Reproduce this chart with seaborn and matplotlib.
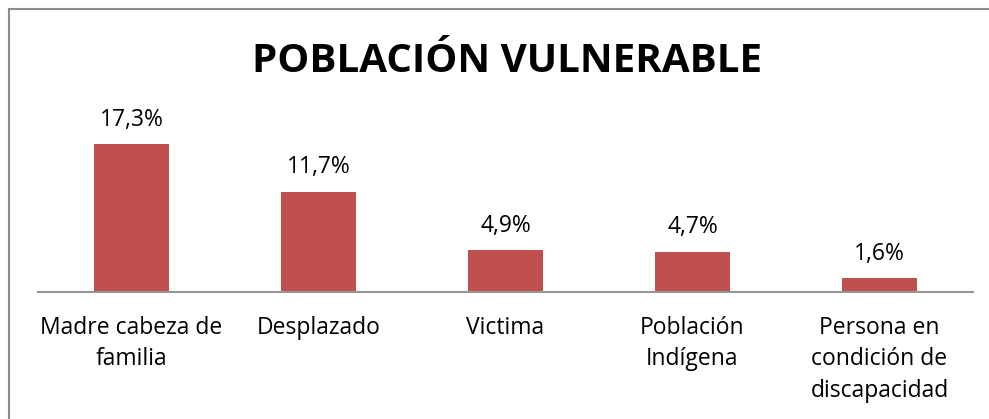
import matplotlib
matplotlib.use("Agg")
import matplotlib.pyplot as plt
import seaborn as sns
import pandas as pd
from matplotlib.patches import Rectangle

categories = ["Madre cabeza de\nfamilia", "Desplazado", "Victima", "Población\nIndígena",
              "Persona en\ncondición de\ndiscapacidad"]
values = [17.3, 11.7, 4.9, 4.7, 1.6]
value_labels = ["17,3%", "11,7%", "4,9%", "4,7%", "1,6%"]
title = "POBLACIÓN VULNERABLE"

sns.set_style("white")
plt.rcParams['font.family'] = ['Open Sans', 'DejaVu Sans']

df = pd.DataFrame({"cat": categories, "val": values})

fig = plt.figure(figsize=(9.89, 4.19), dpi=100)
W, H = 989, 419
ax = fig.add_axes([38 / W, 1 - 292 / H, (973 - 38) / W, (292 - 121) / H])
sns.barplot(data=df, x="cat", y="val", ax=ax, color="#C0504D", width=0.40,
            saturation=1, edgecolor="none")
ax.set_xlim(-0.5, 4.5)
ax.set_ylim(0, 20)
ax.set_xlabel("")
ax.set_ylabel("")
ax.set_yticks([])
for s in ["top", "left", "right"]:
    ax.spines[s].set_visible(False)
ax.spines["bottom"].set_color("#969696")
ax.spines["bottom"].set_linewidth(1.5)
ax.tick_params(axis="x", length=0, pad=17, labelsize=16.5, colors="black")
for lab in ax.get_xticklabels():
    lab.set_linespacing(1.42)

for i, (v, t) in enumerate(zip(values, value_labels)):
    ax.annotate(t, (i, v), xytext=(0, 9), textcoords="offset points",
                ha="center", va="bottom", fontsize=16.5, color="black")

fig.text(507 / W, 1 - 62 / H, title, ha="center", va="center",
         fontsize=29, fontweight="bold", color="black")

fig.patches.append(Rectangle((9 / W, -0.1), 1.2, 1 - 9 / H + 0.1,
                             transform=fig.transFigure, fill=False,
                             edgecolor="#8c8c8c", linewidth=1.5))

fig.savefig("out.png", dpi=100)
